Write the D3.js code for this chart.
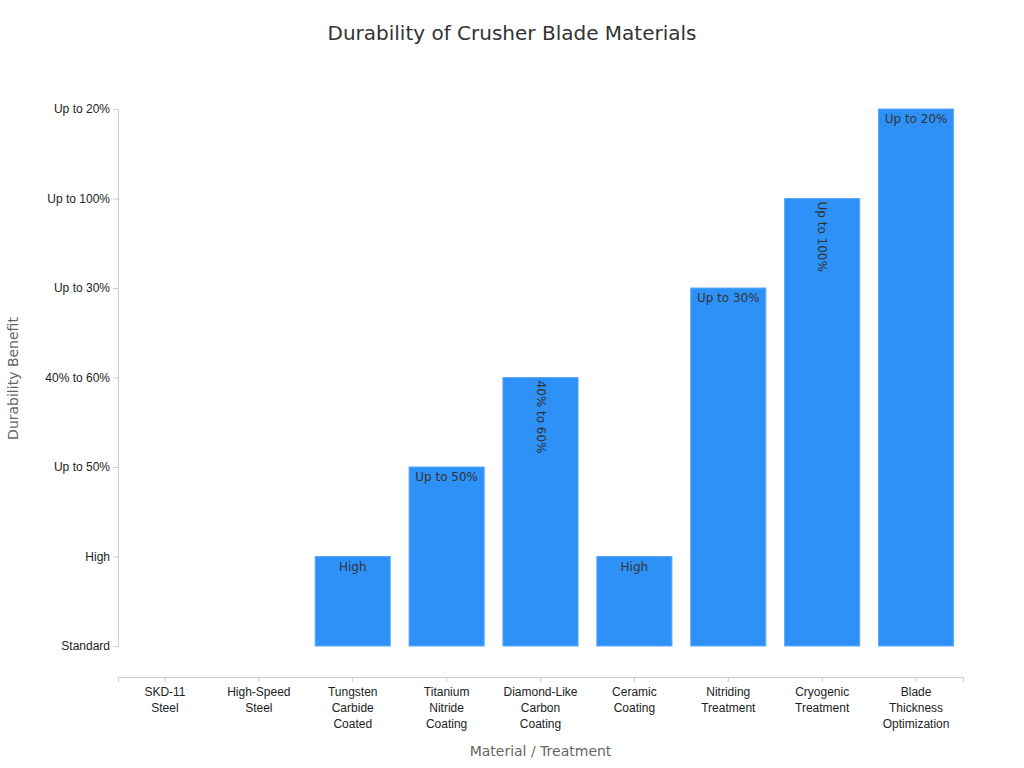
<!DOCTYPE html>
<html>
<head>
<meta charset="utf-8">
<script src="https://cdn.jsdelivr.net/npm/d3@7"></script>
<style>
  body { margin: 0; background: #fff; font-family: "DejaVu Sans", sans-serif; }
  .tick text { font-size: 12px; fill: #222; }
  .domain, .tick line { stroke: #ccc; }
</style>
</head>
<body>
<svg id="chart" width="1024" height="768"></svg>
<script>
// Categories on the x axis (line breaks as in the picture)
const materials = [
  "SKD-11\nSteel", "High-Speed\nSteel", "Tungsten\nCarbide\nCoated", "Titanium\nNitride\nCoating",
  "Diamond-Like\nCarbon\nCoating", "Ceramic\nCoating", "Nitriding\nTreatment",
  "Cryogenic\nTreatment", "Blade\nThickness\nOptimization"
];
// Ordered levels on the y axis, bottom to top
const levels = ["Standard", "High", "Up to 50%", "40% to 60%", "Up to 30%", "Up to 100%", "Up to 20%"];
// Durability benefit per material
const benefit = ["Standard", "Standard", "High", "Up to 50%", "40% to 60%", "High",
  "Up to 30%", "Up to 100%", "Up to 20%"];

const margin = { top: 80, right: 61, bottom: 91, left: 118 };
const width = 1024 - margin.left - margin.right;
const height = 768 - margin.top - margin.bottom;

const svg = d3.select("#chart");
const g = svg.append("g").attr("transform", `translate(${margin.left},${margin.top})`);

const x = d3.scaleBand().domain(materials).range([0, width]).paddingInner(0.2).paddingOuter(0.1);
const y = d3.scalePoint().domain(levels).range([566, 29]);

// Axes
const xAxis = g.append("g").attr("transform", `translate(0,${height})`)
  .call(d3.axisBottom(x).tickSize(5).tickFormat(""));
xAxis.selectAll(".tick").each(function(d) {
  const t = d3.select(this).append("text").attr("y", 19).attr("text-anchor", "middle");
  d.split("\n").forEach((line, i) => t.append("tspan").attr("x", 0).attr("dy", i ? 16 : 0).text(line));
});
g.append("g").call(d3.axisLeft(y).tickSize(5).tickPadding(3));

// Bars
g.selectAll("rect.bar").data(materials).join("rect")
  .attr("class", "bar")
  .attr("x", d => x(d))
  .attr("width", x.bandwidth())
  .attr("y", (d, i) => y(benefit[i]))
  .attr("height", (d, i) => y("Standard") - y(benefit[i]))
  .attr("fill", "#2e91f7")
  .attr("stroke", "#5aa9f9")
  .attr("stroke-width", 1);

// Value labels inside the bars (rotated when too wide)
g.selectAll("text.val").data(materials.map((m, i) => ({ m, v: benefit[i] })).filter(d => d.v !== "Standard"))
  .join("text")
  .attr("class", "val")
  .attr("font-size", 12)
  .attr("fill", "#333")
  .text(d => d.v)
  .each(function(d) {
    const t = d3.select(this);
    const cx = x(d.m) + x.bandwidth() / 2, top = y(d.v);
    if (this.getComputedTextLength() > 66) {
      t.attr("text-anchor", "start")
        .attr("transform", `translate(${cx - 4},${top + 3}) rotate(90)`);
    } else {
      t.attr("text-anchor", "middle").attr("x", cx).attr("y", top + 14);
    }
  });

// Titles
svg.append("text").attr("x", 512).attr("y", 40).attr("text-anchor", "middle")
  .attr("font-size", 20).attr("fill", "#333").text("Durability of Crusher Blade Materials");
svg.append("text").attr("x", margin.left + width / 2).attr("y", 756).attr("text-anchor", "middle")
  .attr("font-size", 14).attr("fill", "#666").text("Material / Treatment");
svg.append("text").attr("transform", `translate(18,${margin.top + height / 2}) rotate(-90)`)
  .attr("text-anchor", "middle").attr("font-size", 14).attr("fill", "#666").text("Durability Benefit");
</script>
</body>
</html>
